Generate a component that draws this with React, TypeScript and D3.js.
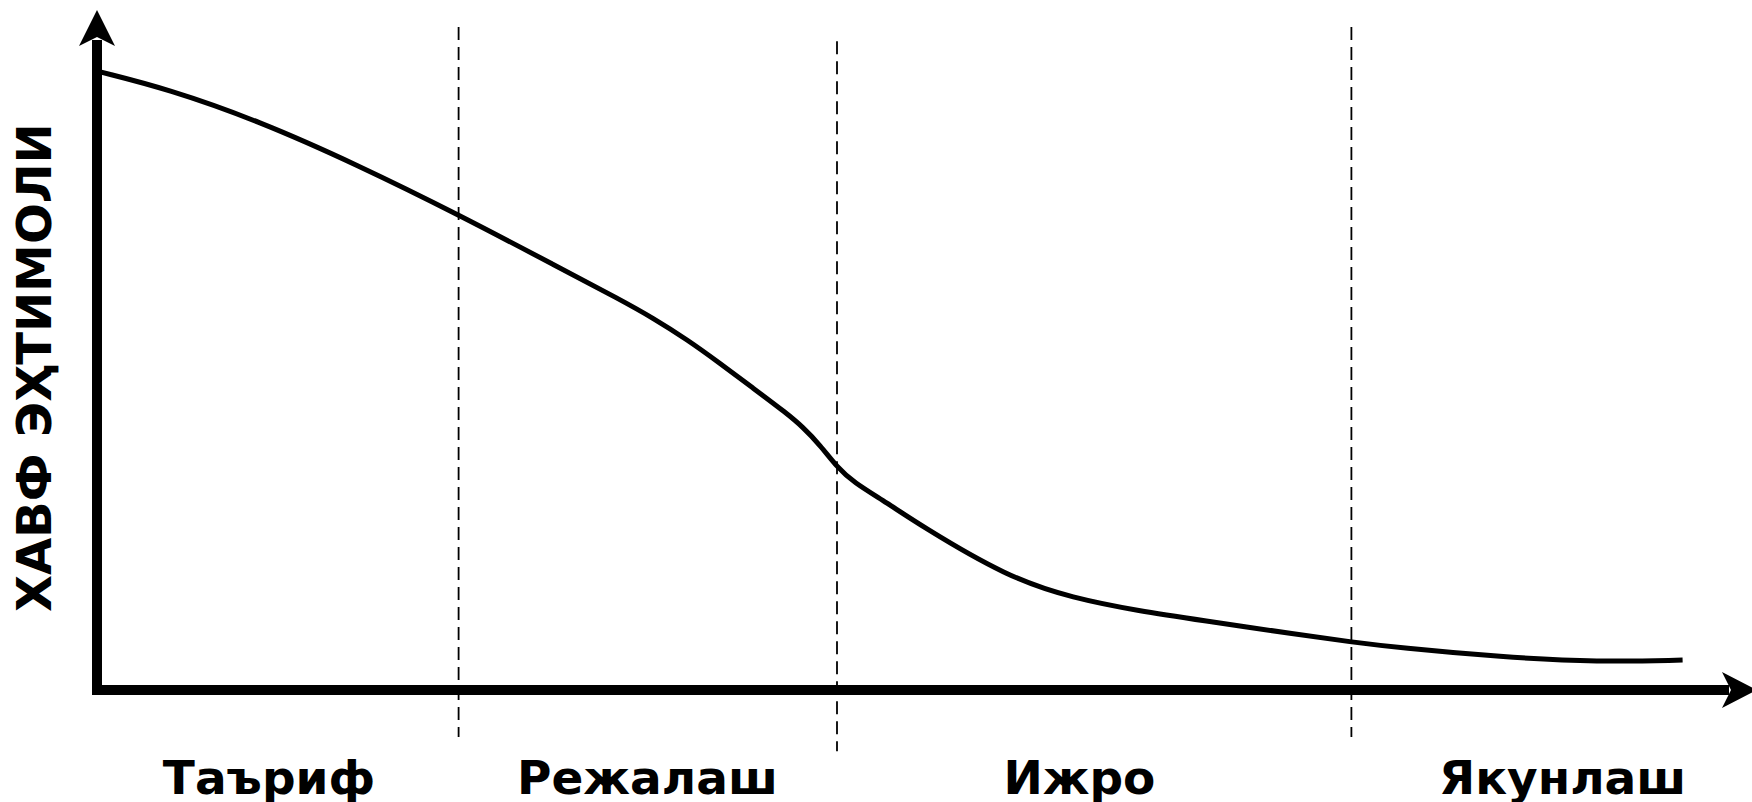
import React from "react";
import * as d3 from "d3";

// project time (0..100) vs risk probability (0..100)
const timeValues = [0.2, 4.4, 10.1, 16.3, 22.6, 28.9, 32.7, 34.75, 36.9, 38.9, 41.0, 43.1, 44.1, 45.2, 46.25, 47.25, 49.4, 51.4, 56.9, 61.0, 65.2, 68.9, 75.2, 78.3, 81.4, 87.7, 93.9, 99.1];
const riskValues = [90.9, 88.4, 83.7, 77.2, 69.9, 62.1, 57.4, 54.7, 51.5, 48.1, 44.4, 40.7, 38.7, 36.0, 32.8, 30.6, 27.5, 24.3, 16.6, 13.5, 11.6, 10.3, 8.1, 7.1, 6.2, 4.85, 4.1, 4.4];

const phaseNames = ["Таъриф", "Режалаш", "Ижро", "Якунлаш"];
const phaseLabelPos = [10.75, 34.4, 61.4, 91.6];
const phaseBounds = [22.6, 46.25, 78.4];

const yTitle = "ХАВФ ЭҲТИМОЛИ";

const W = 1752;
const H = 802;
const FONT = "'DejaVu Sans', Verdana, sans-serif";

const App = () => {
    const x = d3.scaleLinear().domain([0, 100]).range([97, 1697]);
    const y = d3.scaleLinear().domain([0, 100]).range([690, 10]);

    const pts: [number, number][] = timeValues.map((t, i) => [t, riskValues[i]]);

    // basis smooths out the small reading errors between the points
    const line = d3
        .line<[number, number]>()
        .x((d) => x(d[0]))
        .y((d) => y(d[1]))
        .curve(d3.curveBasis);

    const x0 = x(0);
    const y0 = y(0);
    const yTop = y(100);

    // dashed boundary extents (slightly different per line, as in the original)
    const dashTop = [y(97.5), y(95.4), y(97.5)];
    const dashBottom = [y(-6.9), y(-9), y(-6.9)];

    const xTip = W + 5;
    const arrowY = `M${x0},${yTop} L${x0 + 18},${yTop + 36} L${x0},${yTop + 27} L${x0 - 18},${yTop + 36} Z`;
    const arrowX = `M${xTip},${y0} L${xTip - 35},${y0 - 18} L${xTip - 26},${y0} L${xTip - 35},${y0 + 18} Z`;

    return (
        <svg width={W} height={H} style={{ position: "absolute", left: 0, top: 0, background: "#fff" }}>
            {phaseBounds.map((b, i) => (
                <line
                    key={"b" + i}
                    x1={x(b)}
                    x2={x(b)}
                    y1={dashTop[i]}
                    y2={dashBottom[i]}
                    stroke="#000"
                    strokeWidth={1.8}
                    strokeDasharray="13,7"
                />
            ))}

            <path d={line(pts) || ""} fill="none" stroke="#000" strokeWidth={5} strokeLinecap="butt" strokeLinejoin="round" />

            {/* axes */}
            <line x1={x0} x2={x0} y1={y0 + 5} y2={yTop + 30} stroke="#000" strokeWidth={10} />
            <path d={arrowY} fill="#000" />
            <line x1={x0 - 5} x2={xTip - 28} y1={y0} y2={y0} stroke="#000" strokeWidth={10} />
            <path d={arrowX} fill="#000" />

            <text
                transform={`translate(51,${y(47.4)}) rotate(-90)`}
                textAnchor="middle"
                fontFamily={FONT}
                fontWeight="bold"
                fontSize={48}
                fill="#000"
            >
                {yTitle}
            </text>

            {phaseNames.map((p, i) => (
                <text
                    key={p}
                    x={x(phaseLabelPos[i])}
                    y={794}
                    textAnchor="middle"
                    fontFamily={FONT}
                    fontWeight="bold"
                    fontSize={47}
                    fill="#000"
                >
                    {p}
                </text>
            ))}
        </svg>
    );
};

export default App;
